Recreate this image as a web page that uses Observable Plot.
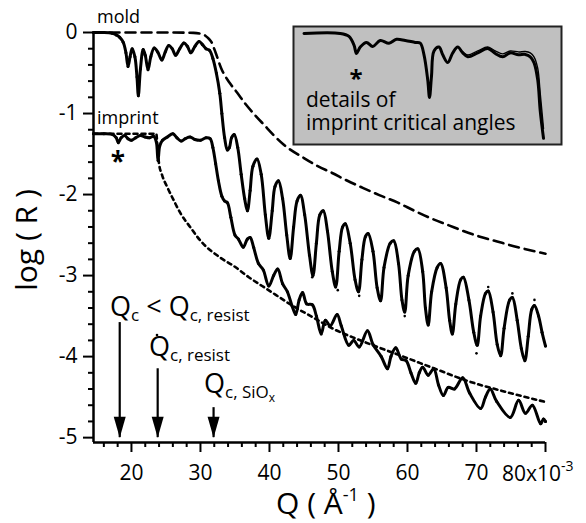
<!DOCTYPE html>
<html><head><meta charset="utf-8">
<script src="https://cdn.jsdelivr.net/npm/d3@7"></script>
<script src="https://cdn.jsdelivr.net/npm/@observablehq/plot@0.6"></script>
<style>
body{margin:0;background:#fff;}
#wrap{position:relative;width:586px;height:523px;overflow:hidden;}
#inset{position:absolute;left:293px;top:26px;}
text{white-space:pre;}
</style></head><body><div id="wrap"></div>
<script>
// ---------- data ----------
const yMajor = [0, -1, -2, -3, -4, -5];
const yMinor = [-0.2,-0.4,-0.6,-0.8,-1.2,-1.4,-1.6,-1.8,-2.2,-2.4,-2.6,-2.8,-3.2,-3.4,-3.6,-3.8,-4.2,-4.4,-4.6,-4.8];
const xMajor = [20, 30, 40, 50, 60, 70];
const xMinor = [16,18,22,24,26,28,32,34,36,38,42,44,46,48,52,54,56,58,62,64,66,68,72,74,76,78];

const moldQ = [14.5,16,17.2,17.8,18.3,18.8,19.2,19.5,19.8,20.1,20.5,20.8,21.0,21.3,21.7,22.0,22.4,22.8,23.3,23.8,24.4,24.9,25.4,25.9,26.4,27.0,27.6,28.1,28.6,29.2,29.8,30.3,30.8,31.3,31.8,32.3,32.8,33.1,33.5,33.9,34.2,34.5,34.9,35.4,35.9,36.4,36.8,37.2,37.6,38.2,38.8,39.4,39.9,40.4,40.8,41.3,41.9,42.5,43.0,43.5,44.0,44.5,45.1,45.8,46.3,46.8,47.3,47.8,48.4,49.1,49.6,50.1,50.6,51.0,51.7,52.4,52.9,53.4,53.9,54.3,55.0,55.6,56.1,56.6,57.5,58.0,58.7,59.2,59.6,60.1,61.0,61.5,62.2,62.6,63.0,63.5,64.3,64.8,65.6,66.1,66.5,67.0,67.7,68.1,68.9,69.6,70.1,70.6,71.3,71.7,72.4,73.0,73.5,74.0,74.8,75.2,75.9,76.5,77.0,77.5,78.0,78.4,79.0,79.5,80.0];
const moldR = [0,0,-0.01,-0.03,-0.06,-0.12,-0.25,-0.42,-0.3,-0.2,-0.3,-0.55,-0.78,-0.45,-0.21,-0.28,-0.46,-0.3,-0.19,-0.24,-0.34,-0.24,-0.16,-0.2,-0.28,-0.2,-0.13,-0.17,-0.25,-0.17,-0.11,-0.15,-0.2,-0.22,-0.32,-0.5,-0.75,-1.0,-1.3,-1.45,-1.42,-1.3,-1.26,-1.42,-1.75,-2.05,-2.2,-1.95,-1.65,-1.56,-1.75,-2.25,-2.54,-2.2,-1.9,-1.83,-2.05,-2.5,-2.79,-2.4,-2.08,-2.01,-2.25,-2.75,-3.0,-2.6,-2.25,-2.2,-2.45,-2.95,-3.14,-2.7,-2.4,-2.36,-2.6,-3.05,-3.2,-2.8,-2.52,-2.48,-2.7,-3.15,-3.31,-2.9,-2.6,-2.57,-2.85,-3.3,-3.45,-3.0,-2.7,-2.67,-2.95,-3.4,-3.61,-3.2,-2.9,-2.85,-3.15,-3.55,-3.72,-3.35,-3.05,-3.02,-3.3,-3.7,-3.86,-3.5,-3.22,-3.19,-3.45,-3.85,-3.99,-3.65,-3.3,-3.27,-3.55,-3.9,-4.05,-3.75,-3.42,-3.37,-3.5,-3.7,-3.87];

const impQ = [14.5,16,17.3,17.8,18.1,18.5,19.0,19.5,20.0,20.6,21.3,22.0,22.6,23.2,23.6,23.85,24.1,24.5,25.2,26.0,26.6,27.2,27.8,28.5,29.2,30.0,30.8,31.4,31.8,32.2,32.6,33.1,33.5,33.9,34.4,35.0,35.5,36.2,36.8,37.2,37.7,38.4,39.1,39.9,40.6,41.2,41.9,42.6,43.3,43.8,44.3,44.8,45.4,46.2,46.8,47.5,48.1,48.8,49.8,50.4,51.5,52.2,53.0,54.2,55.0,56.2,57.1,57.6,58.3,59.1,59.8,60.5,61.2,61.7,62.2,63.0,63.8,64.5,65.2,65.9,66.8,68.0,69.0,70.6,71.3,72.0,72.9,74.9,76.1,77.1,78.1,79.3,79.7,80.0];
const impR = [-1.25,-1.25,-1.26,-1.3,-1.36,-1.3,-1.27,-1.31,-1.33,-1.3,-1.27,-1.29,-1.3,-1.28,-1.35,-1.58,-1.4,-1.33,-1.29,-1.25,-1.3,-1.34,-1.31,-1.29,-1.32,-1.33,-1.3,-1.31,-1.42,-1.62,-1.83,-2.02,-2.08,-2.1,-2.28,-2.5,-2.55,-2.65,-2.55,-2.53,-2.65,-2.85,-2.93,-3.13,-3.0,-2.92,-3.1,-3.2,-3.38,-3.48,-3.3,-3.21,-3.35,-3.36,-3.5,-3.72,-3.55,-3.62,-3.48,-3.62,-3.86,-3.8,-3.88,-3.68,-3.85,-4.0,-4.15,-4.0,-3.89,-4.03,-4.05,-4.2,-4.33,-4.2,-4.13,-4.23,-4.15,-4.35,-4.48,-4.38,-4.4,-4.26,-4.45,-4.64,-4.5,-4.4,-4.55,-4.75,-4.54,-4.7,-4.6,-4.83,-4.77,-4.8];

const moldFresQ = [14.5,20,25,29,30.3,31.0,31.6,32.2,33.0,34.3,35.3,36.5,37.7,39.0,42.0,45.0,47.0,49.0,51.3,53.6,56.0,58.6,61.0,63.3,66.0,68.1,70.5,73.0,76.0,80.0];
const moldFresR = [0,0,0,-0.005,-0.02,-0.06,-0.12,-0.25,-0.44,-0.63,-0.74,-0.88,-1.0,-1.12,-1.38,-1.55,-1.65,-1.73,-1.83,-1.92,-2.01,-2.1,-2.2,-2.29,-2.38,-2.45,-2.52,-2.58,-2.65,-2.73];

const impFresQ = [14.5,20,23.6,23.8,24.0,24.4,25.2,26.0,27.1,28.5,30.0,32.9,34.8,37.0,39.7,43.5,46.4,49.3,52.0,55.0,59.4,64.0,68.7,74.0,80.0];
const impFresR = [-1.25,-1.25,-1.25,-1.45,-1.62,-1.75,-1.91,-2.05,-2.23,-2.4,-2.57,-2.78,-2.88,-3.02,-3.17,-3.38,-3.52,-3.66,-3.76,-3.86,-4.0,-4.15,-4.3,-4.43,-4.56];

// stray data points visible off the fits
const strayQ = [46.2, 49.9, 53.0, 59.6, 70.0, 75.2, 78.4, 71.7];
const strayR = [-3.02, -3.18, -3.25, -3.5, -3.96, -3.22, -3.3, -3.14];

// arrows marking critical angles
const arrowQ = [18.3, 23.8, 31.9];
const arrowTop = [-3.58, -4.15, -4.63];
const arrowTip = -5.0;

// inset (zoom of imprint critical-angle region)
const insetQ = [13.8,16.7,17.4,17.8,18.0,18.3,18.8,19.3,19.9,20.6,21.2,21.9,22.7,23.1,23.4,23.7,23.84,24.0,24.2,24.6,24.9,25.3,25.7,26.1,26.5,26.9,27.7,28.5,29.1,29.7,30.3,30.96,31.5,31.9,32.2,32.5,32.7,32.96];
const insetData = [-1.25,-1.25,-1.265,-1.31,-1.353,-1.32,-1.296,-1.317,-1.286,-1.30,-1.28,-1.286,-1.296,-1.30,-1.36,-1.49,-1.58,-1.47,-1.34,-1.32,-1.36,-1.40,-1.35,-1.32,-1.35,-1.37,-1.35,-1.327,-1.353,-1.37,-1.35,-1.36,-1.358,-1.37,-1.40,-1.49,-1.65,-1.79];
const insetFit = [-1.25,-1.25,-1.265,-1.31,-1.35,-1.32,-1.296,-1.317,-1.286,-1.30,-1.28,-1.286,-1.296,-1.30,-1.36,-1.49,-1.58,-1.47,-1.34,-1.32,-1.36,-1.40,-1.35,-1.32,-1.345,-1.36,-1.34,-1.32,-1.34,-1.355,-1.34,-1.345,-1.343,-1.35,-1.37,-1.43,-1.56,-1.74];

// ---------- build tables ----------
const zip = (xs, ys) => xs.map((q, i) => ({q, r: ys[i]}));
const mold = zip(moldQ, moldR);
const imprint = zip(impQ, impR);
const moldFres = zip(moldFresQ, moldFresR);
const impFres = zip(impFresQ, impFresR);
const stray = zip(strayQ, strayR);
const arrows = arrowQ.map((q, i) => ({q, top: arrowTop[i], tip: arrowTip}));
const insetD = zip(insetQ, insetData);
const insetF = zip(insetQ, insetFit);

const FONT = "'Open Sans', sans-serif";
const head = {draw(ctx) { ctx.moveTo(0, 0); ctx.lineTo(-6, -21); ctx.lineTo(6, -21); ctx.closePath(); }};

const plot = Plot.plot({
  width: 586, height: 523,
  marginLeft: 93, marginRight: 41, marginTop: 32, marginBottom: 81,
  x: {domain: [14.5, 80]},
  y: {domain: [-5.06, 0]},
  style: {fontFamily: FONT, background: "#fff", color: "#000", overflow: "visible"},
  marks: [
    Plot.axisY({ticks: yMinor, tickSize: 5, strokeWidth: 2, tickFormat: () => "", label: null}),
    Plot.axisY({ticks: yMajor, tickSize: 10, tickPadding: 6, strokeWidth: 2, tickFormat: d => String(d), fontSize: 21, label: null}),
    Plot.axisX({ticks: xMinor, tickSize: 5, strokeWidth: 2, tickFormat: () => "", label: null}),
    Plot.axisX({ticks: xMajor, tickSize: 10, tickPadding: 13, strokeWidth: 2, tickFormat: d => String(d), fontSize: 21, label: null}),
    Plot.axisX({ticks: [80], tickSize: 10, strokeWidth: 2, tickFormat: () => "", label: null}),
    Plot.ruleX([14.5], {strokeWidth: 2.5}),
    Plot.ruleY([-5.06], {strokeWidth: 2.5}),
    Plot.line(moldFres, {x: "q", y: "r", stroke: "#000", strokeWidth: 2.6, strokeDasharray: "10,6", curve: "monotone-x"}),
    Plot.line(impFres, {x: "q", y: "r", stroke: "#000", strokeWidth: 2.6, strokeDasharray: "4,4", curve: "monotone-x"}),
    Plot.line(mold, {x: "q", y: "r", stroke: "#000", strokeWidth: 3, curve: "catmull-rom"}),
    Plot.dot(mold, {x: "q", y: "r", r: 1.5, fill: "#000"}),
    Plot.line(imprint, {x: "q", y: "r", stroke: "#000", strokeWidth: 3, curve: "catmull-rom"}),
    Plot.dot(imprint, {x: "q", y: "r", r: 1.5, fill: "#000"}),
    Plot.dot(stray, {x: "q", y: "r", r: 1.3, fill: "#000"}),
    Plot.ruleX(arrows, {x: "q", y1: "top", y2: "tip", strokeWidth: 2.2}),
    Plot.dot(arrows, {x: "q", y: "tip", symbol: head, fill: "#000", stroke: "none"})
  ]
});

const svg = d3.select(plot);
function rich(sel, x, y, parts, size, anchor = "start") {
  const t = sel.append("text").attr("x", x).attr("y", y).attr("text-anchor", anchor)
    .attr("font-family", FONT).attr("fill", "#000").attr("font-size", size);
  let cur = 0;
  for (const [s, fs, shift] of parts) {
    t.append("tspan").attr("font-size", fs).attr("dy", shift - cur).text(s);
    cur = shift;
  }
  return t;
}
const xs = plot.scale("x");
// 80x10^-3 label
rich(svg, xs.apply(80) - 43, 481, [["80x10", 21, 0], ["-3", 14, -10]], 21);
// axis titles
rich(svg, 276, 514, [["Q ( Å", 30, 0], ["-1", 18, -13], [" )", 30, 0]], 30);
svg.append("text").attr("transform", "translate(37,240) rotate(-90)")
  .attr("text-anchor", "middle").attr("font-family", FONT).attr("font-size", 30).text("log ( R )");
// curve labels
rich(svg, 97, 23, [["mold", 18, 0]], 18);
rich(svg, 97, 124, [["imprint", 18, 0]], 18);
rich(svg, xs.apply(18.1), 171, [["*", 26, 0]], 26, "middle").attr("font-weight", "bold");
// arrow labels
rich(svg, 110, 316, [["Q", 27, 0], ["c", 17, 5], [" < ", 27, 0], ["Q", 27, 0], ["c, resist", 17, 5]], 27);
rich(svg, 149, 356, [["Q", 27, 0], ["c, resist", 17, 5]], 27);
svg.append("circle").attr("cx", 157).attr("cy", 335).attr("r", 1.3).attr("fill", "#000");
rich(svg, 204, 393, [["Q", 27, 0], ["c, SiO", 17, 5], ["x", 12, 9]], 27);

const wrap = document.getElementById("wrap");
wrap.appendChild(plot);

// inset plot
const inset = Plot.plot({
  width: 268, height: 118, margin: 0,
  x: {domain: [12.96, 34.4], axis: null},
  y: {domain: [-1.822, -1.214], axis: null},
  style: {background: "#c0c0c0", overflow: "visible", fontFamily: FONT},
  marks: [
    Plot.line(insetF, {x: "q", y: "r", stroke: "#000", strokeWidth: 1.4, curve: "catmull-rom"}),
    Plot.line(insetD, {x: "q", y: "r", stroke: "#000", strokeWidth: 3, curve: "catmull-rom"}),
    Plot.frame({stroke: "#222", strokeWidth: 2})
  ]
});
inset.id = "inset";
const isvg = d3.select(inset);
const ix = inset.scale("x");
rich(isvg, ix.apply(18.0), 61, [["*", 24, 0]], 24, "middle").attr("font-weight", "bold");
rich(isvg, 13, 81, [["details of", 21, 0]], 21);
rich(isvg, 13, 104, [["imprint critical angles", 21, 0]], 21);
wrap.appendChild(inset);
</script>
</body></html>
